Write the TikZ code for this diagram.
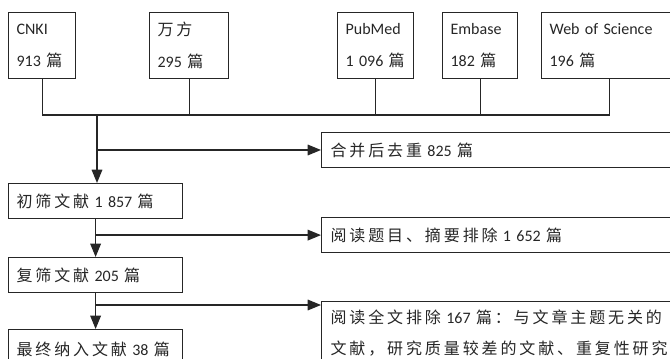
\documentclass[tikz,border=0pt]{standalone}
\usepackage{fontspec}
\setmainfont{Carlito}
\newfontfamily\cjkfont[Scale=1.0, LetterSpace=18]{Noto Sans CJK SC}
\newcommand{\zh}[1]{{\cjkfont #1}}
\usetikzlibrary{arrows.meta}

\begin{document}
\begin{tikzpicture}[x=0.75pt, y=-0.75pt, line width=0.9pt, color=black!85,
    src/.style={draw, anchor=north west, align=left, inner xsep=6pt, inner ysep=0pt,
      minimum height=49.5pt, font=\fontsize{12}{24}\selectfont},
    stage/.style={draw, anchor=north west, align=left, inner xsep=6pt,
      minimum height=26.25pt, text width=118.5pt, font=\fontsize{12}{23}\selectfont},
    excl/.style={stage, inner xsep=6.75pt, text width=270pt},
    arr/.style={-{Triangle[length=10pt, width=8pt]}}]
    \useasboundingbox (0,0) rectangle (670,359);
    \clip (0,0) rectangle (670,359);

    % databases
    \node[src, text width=38.25pt] (cnki) at (8,12) {CNKI\\913 \zh{篇}};
    \node[src, text width=47.25pt] (wanfang) at (149,12) {\zh{万方}\\295 \zh{篇}};
    \node[src, text width=45pt] (pubmed) at (337,12) {PubMed\\1 096 \zh{篇}};
    \node[src, text width=44.25pt] (embase) at (442,12) {Embase\\182 \zh{篇}};
    \node[src, text width=90pt] (wos) at (541,12) {Web of Science\\196 \zh{篇}};

    % merge line
    \coordinate (bus) at (97,115);
    \draw (cnki) |- (bus) -| (wos);
    \draw (wanfang) -- (wanfang |- bus);
    \draw (pubmed) -- (pubmed |- bus);
    \draw (embase) -- (embase |- bus);

    % screening steps
    \node[excl] (dup) at (321,132) {\zh{合并后去重} 825 \zh{篇}};
    \node[stage] (first) at (8,183) {\zh{初筛文献} 1 857 \zh{篇}};
    \node[excl] (screen) at (321,217) {\zh{阅读题目、摘要排除} 1 652 \zh{篇}};
    \node[stage] (second) at (8,257) {\zh{复筛文献} 205 \zh{篇}};
    \node[excl, inner ysep=6.5pt] (fulltext) at (321,301) {\zh{阅读全文排除} 167 \zh{篇：与文章主题无关的}\\
      \zh{文献，研究质量较差的文献、重复性研究}};
    \node[stage, minimum height=30pt] (final) at (8,329) {\zh{最终纳入文献} 38 \zh{篇}};

    % arrows
    \coordinate (b1) at (97,150);
    \coordinate (b3) at (95,305);
    \draw[arr] (bus) -- (bus |- first.north);
    \draw[arr] (b1) -- (b1 -| dup.west);
    \draw[arr] (first) -- (second);
    \draw[arr] (first.south |- screen.west) -- (screen.west);
    \draw[arr] (second) -- (final);
    \draw[arr] (b3) -- (b3 -| fulltext.west);
\end{tikzpicture}
\end{document}
